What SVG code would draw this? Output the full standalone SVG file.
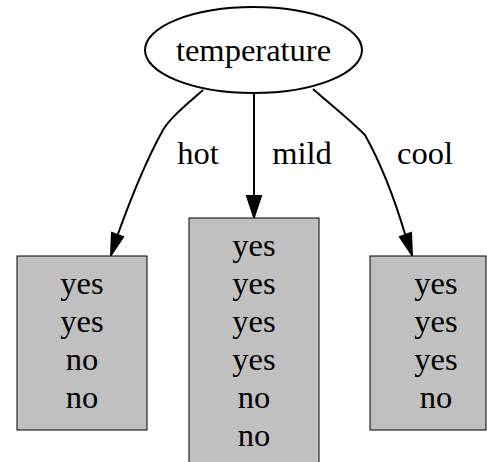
<svg xmlns="http://www.w3.org/2000/svg" width="487" height="462" viewBox="0 0 487 462">
<style>
text{font-family:"Liberation Serif","Times New Roman",serif;font-size:32.5px;fill:#000;text-anchor:middle}
.box{fill:#c0c0c0;stroke:#000;stroke-width:1}
.edge{fill:none;stroke:#000;stroke-width:2}
.head{fill:#000;stroke:#000;stroke-width:2}
</style>
<rect width="487" height="462" fill="#fff"/>
<g id="edges">
<path class="edge" d="M203,90 C185,106 170,118 163,130 C148,157 132,195 118,234"/>
<polygon class="head" points="112,233 123,237 111,255"/>
<text x="198" y="164">hot</text>
<path class="edge" d="M254,93 L254,197"/>
<polygon class="head" points="247,196 261,196 254,217"/>
<text x="302" y="164">mild</text>
<path class="edge" d="M313,89 C331,105 348,118 365,135 C380,162 394,197 405,234"/>
<polygon class="head" points="400,237 411,233 412,255"/>
<text x="425" y="164">cool</text>
</g>
<g id="temperature">
<ellipse cx="253.5" cy="50" rx="108.5" ry="43" fill="#fff" stroke="#000" stroke-width="2"/>
<text x="253.5" y="61">temperature</text>
</g>
<g id="hot_leaf">
<rect class="box" x="17" y="256" width="130" height="174"/>
<text x="82" y="294">yes</text>
<text x="82" y="332">yes</text>
<text x="82" y="370">no</text>
<text x="82" y="408">no</text>
</g>
<g id="mild_leaf">
<rect class="box" x="189" y="218" width="130" height="260"/>
<text x="254" y="256">yes</text>
<text x="254" y="294">yes</text>
<text x="254" y="332">yes</text>
<text x="254" y="370">yes</text>
<text x="254" y="408">no</text>
<text x="254" y="446">no</text>
</g>
<g id="cool_leaf">
<rect class="box" x="370" y="256" width="116" height="174"/>
<text x="436" y="294">yes</text>
<text x="436" y="332">yes</text>
<text x="436" y="370">yes</text>
<text x="436" y="408">no</text>
</g>
</svg>
